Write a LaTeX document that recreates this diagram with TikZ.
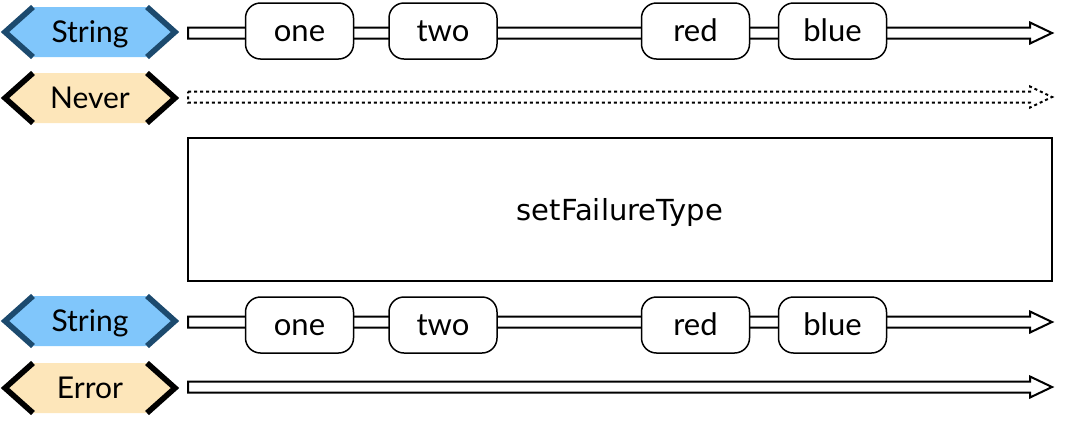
\documentclass[tikz,border=0pt]{standalone}
\usepackage{fontspec}
\newfontfamily\tagfont{Lato}
\newfontfamily\opfont{DejaVu Sans}
\usetikzlibrary{calc}
\definecolor{strfill}{HTML}{80C6FB}
\definecolor{stredge}{HTML}{1C4A6E}
\definecolor{errfill}{HTML}{FDE6BA}
\tikzset{val/.style={draw,fill=white,rounded corners=7.5pt,line width=.75pt,minimum width=54pt,minimum height=28pt,inner sep=0pt,text height=12pt,text depth=1.5pt,font=\tagfont\fontsize{15.5}{15.5}\selectfont}}
\tikzset{tagtext/.style={inner sep=0pt,text height=12pt,text depth=1.5pt,font=\tagfont\fontsize{15}{15}\selectfont}}
\tikzset{pipe/.style={draw,fill=white,line width=1pt},chevron/.style={line width=2.8pt}}
\tikzset{opbox/.style={draw,line width=.75pt,minimum width=432pt,minimum height=71.5pt,text depth=0pt,font=\opfont\fontsize{14.5}{14.5}\selectfont}}
% tag: name, y, fill, edge colour, text
\newcommand{\typetag}[5]{
  \fill[#3] (5,#2) -- (33,#2-25) -- (147,#2-25) -- (175,#2) -- (147,#2+25) -- (33,#2+25) -- cycle;
  \draw[chevron,#4] (33,#2-25) -- (5,#2) -- (33,#2+25) (147,#2-25) -- (175,#2) -- (147,#2+25);
  \node[tagtext] (#1) at (90,#2) {#5};
}
% pipe from start to tip
\newcommand{\pipeline}[3]{
  \draw[pipe,#3] ($(#1)+(0,-5.5)$) -- ($(#2)+(-22,-5.5)$) -- ($(#2)+(-22,-10.5)$) -- (#2)
    -- ($(#2)+(-22,10.5)$) -- ($(#2)+(-22,5.5)$) -- ($(#1)+(0,5.5)$) -- cycle;
}
\begin{document}
\begin{tikzpicture}[x=0.5pt,y=-0.5pt]
  \useasboundingbox (0,0) rectangle (1080,430);
  \typetag{t1}{32}{strfill}{stredge}{String}
  \typetag{t2}{98}{errfill}{black}{Never}
  \typetag{t3}{321}{strfill}{stredge}{String}
  \typetag{t4}{388}{errfill}{black}{Error}
  \coordinate (s1) at (188,33);  \coordinate (e1) at (1052,33);
  \coordinate (s2) at (188,97);  \coordinate (e2) at (1052,97);
  \coordinate (s3) at (188,322); \coordinate (e3) at (1052,322);
  \coordinate (s4) at (188,387); \coordinate (e4) at (1052,387);
  \pipeline{s1}{e1}{}
  \pipeline{s2}{e2}{dash pattern=on 1.5pt off 1.5pt}
  \pipeline{s3}{e3}{}
  \pipeline{s4}{e4}{}
  \node[val] (a1) at (299.5,31) {one};
  \node[val] (b1) at (443,31) {two};
  \node[val] (c1) at (695.5,31) {red};
  \node[val] (d1) at (832.5,31) {blue};
  \node[val] (a3) at (299.5,325) {one};
  \node[val] (b3) at (443,325) {two};
  \node[val] (c3) at (695.5,325) {red};
  \node[val] (d3) at (832.5,325) {blue};
  \node[opbox] (op) at (620,209.5) {setFailureType};
\end{tikzpicture}
\end{document}
